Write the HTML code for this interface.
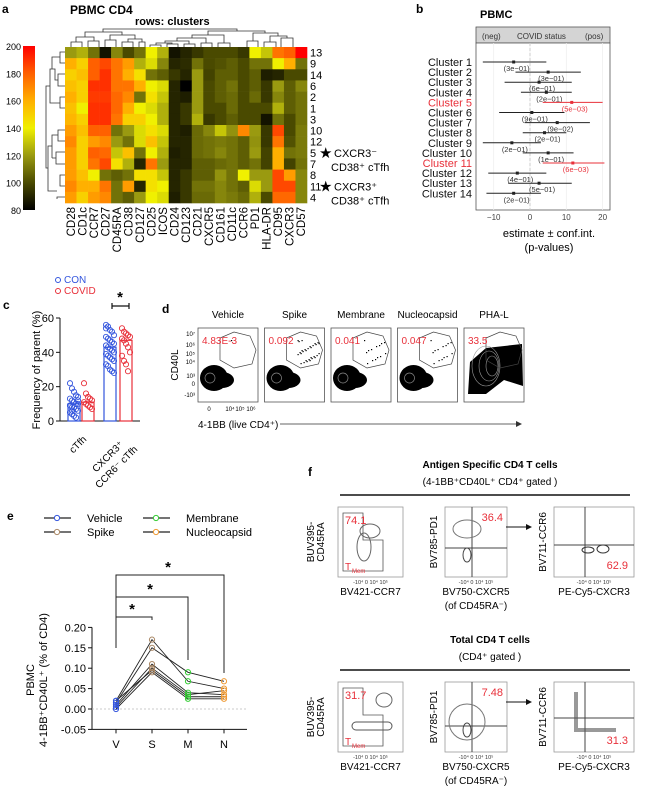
<!DOCTYPE html>
<html><head><meta charset="utf-8">
<style>
html,body{margin:0;padding:0;background:#fff;}
svg{display:block;font-family:"Liberation Sans",Arial,sans-serif;}
</style></head>
<body>
<svg id="fig" width="656" height="794" viewBox="0 0 656 794" xmlns="http://www.w3.org/2000/svg">
<defs>
<linearGradient id="cbar" x1="0" y1="1" x2="0" y2="0">
<stop offset="0" stop-color="#000000"/><stop offset="0.1667" stop-color="#4a4a00"/>
<stop offset="0.3333" stop-color="#9a9a10"/><stop offset="0.5" stop-color="#f0f000"/>
<stop offset="0.6667" stop-color="#ffb000"/><stop offset="0.8333" stop-color="#ff6000"/>
<stop offset="1" stop-color="#ff0000"/></linearGradient>
</defs>
<g id="pa"></g>
<g id="pb"></g>
<g id="pc"></g>
<g id="pd"></g>
<g id="pe"></g>
<g id="pf"></g>
</svg>
<script>
// ---------- Panel a data ----------
const hmCols = ["CD28","CD1c","CCR7","CD27","CD45RA","CD38","CD127","CD25","ICOS","CD24","CD123","CD21","CXCR5","CD161","CD11c","CCR6","PD1","HLA-DR","CD95","CXCR3","CD57"];
const hmRows = ["13","9","14","6","2","1","3","10","12","5","7","8","11","4"];
const hmVals = [
[120,125,110,85,115,100,110,140,125,85,90,95,100,100,100,95,140,130,175,180,200],
[160,150,180,185,175,165,125,135,115,90,92,110,100,102,105,100,110,110,140,160,110],
[150,155,180,190,175,160,145,110,105,95,90,120,98,105,105,100,105,88,90,100,100],
[155,150,190,190,175,175,160,140,135,90,80,120,100,105,110,100,105,95,120,105,115],
[160,150,188,188,178,170,110,145,130,90,88,120,100,105,108,100,108,95,115,105,110],
[155,140,190,190,178,160,140,135,125,90,95,120,100,100,108,100,100,100,125,105,110],
[158,150,190,190,175,150,150,140,125,90,95,125,95,100,105,100,100,85,110,100,110],
[165,155,180,180,110,120,135,145,135,90,88,108,115,130,118,170,120,95,185,100,112],
[170,150,165,170,120,110,135,155,130,90,90,108,110,112,110,105,118,95,175,102,112],
[165,150,180,178,130,155,110,140,125,88,90,108,110,115,110,105,120,98,160,110,112],
[165,150,175,185,145,125,90,175,120,90,90,105,105,108,110,105,110,98,160,98,110],
[165,155,140,110,105,110,145,145,130,90,95,105,105,118,110,140,120,120,185,165,115],
[170,160,160,175,110,165,90,145,140,90,95,110,110,115,110,105,135,120,185,185,115],
[165,150,165,170,110,105,120,140,135,88,95,108,108,115,112,108,125,100,178,178,115]];
const cbTicks = [80,100,120,140,160,180,200];
// ---------- Panel b data ----------
const fpClusters = ["Cluster 1","Cluster 2","Cluster 3","Cluster 4","Cluster 5","Cluster 6","Cluster 7","Cluster 8","Cluster 9","Cluster 10","Cluster 11","Cluster 12","Cluster 13","Cluster 14"];
const fpEst = [-4.5,5,2.5,4.5,11.5,0.5,7.5,4,-5,5,11.8,-3.5,2.5,-4.5];
const fpLo = [-13,-4,-7,-2.5,3.5,-8.5,-1.5,-2,-13,-2,3.5,-11.5,-6,-12];
const fpHi = [4.5,14,11.5,11.5,20,9.5,16.5,10,3,12,20.5,4.5,11.5,3];
const fpP = ["(3e−01)","(3e−01)","(6e−01)","(2e−01)","(5e−03)","(9e−01)","(9e−02)","(2e−01)","(2e−01)","(1e−01)","(6e−03)","(4e−01)","(5e−01)","(2e−01)"];
const fpSig = [0,0,0,0,1,0,0,0,0,0,1,0,0,0];
const fpTicks = [-10,0,10,20];
// ---------- Panel c data ----------
const cGroups = ["cTfh","CXCR3+ CCR6- cTfh"];
const cConMean = [10,43];
const cCovMean = [11,47];
const cConPts = [[22,19,17,15,14,13,12,11,10,10,9,8,8,7,6,5,4,3,2,12,9,6],[56,55,53,52,50,49,48,47,46,45,44,43,42,41,40,39,38,37,36,35,33,32,30,29,28,54]];
const cCovPts = [[22,16,14,13,12,11,10,9,8,7],[54,52,51,50,49,48,47,45,43,40,38,35,33,29]];
const cTicks = [0,20,40,60];
// ---------- Panel d data ----------
const dConds = ["Vehicle","Spike","Membrane","Nucleocapsid","PHA-L"];
const dPct = ["4.83E-3","0.092","0.041","0.047","33.5"];
const dGateDots = [1,30,14,14,0];
// ---------- Panel e data ----------
const eCats = ["V","S","M","N"];
const eDonors = [
[0.02,0.17,0.068,0.05],
[0.015,0.15,0.09,0.068],
[0.01,0.11,0.04,0.035],
[0.005,0.10,0.035,0.045],
[0.02,0.095,0.03,0.03],
[0.0,0.09,0.025,0.025]];
const eTicks = [-0.05,0,0.05,0.10,0.15,0.20];
const eTickLbl = ["-0.05","0.00","0.05","0.10","0.15","0.20"];
const eColors = ["#3355dd","#aa8866","#33cc33","#ee9933"];
const eSeries = ["Vehicle","Spike","Membrane","Nucleocapsid"];
// ---------- Panel f data ----------
const fTop = ["74.1","36.4","62.9"];
const fBot = ["31.7","7.48","31.3"];

const NS="http://www.w3.org/2000/svg";
function mk(parent,tag,attrs,txt){const e=document.createElementNS(NS,tag);for(const k in attrs)e.setAttribute(k,attrs[k]);if(txt!==undefined)e.textContent=txt;parent.appendChild(e);return e;}
function lerp(a,b,t){return a+(b-a)*t;}
const stops=[[80,[0,0,0]],[100,[74,74,0]],[120,[154,154,16]],[140,[240,240,0]],[160,[255,176,0]],[180,[255,96,0]],[200,[255,0,0]]];
function heat(v){v=Math.max(80,Math.min(200,v));for(let i=0;i<stops.length-1;i++){if(v<=stops[i+1][0]){const t=(v-stops[i][0])/20;const a=stops[i][1],b=stops[i+1][1];return `rgb(${Math.round(lerp(a[0],b[0],t))},${Math.round(lerp(a[1],b[1],t))},${Math.round(lerp(a[2],b[2],t))})`;}}return "rgb(255,0,0)";}

// ===== Panel a =====
const pa=document.getElementById('pa');
let t=mk(pa,'text',{x:2,y:13,'font-size':12,'font-weight':'bold'},'a');

t=mk(pa,'text',{x:70,y:14,'font-size':12,'font-weight':'bold'},'PBMC CD4');

t=mk(pa,'text',{x:135,y:25,'font-size':11,'font-weight':'bold'},'rows: clusters');

const hx0=65,hy0=47,cw=242/hmCols.length,rh=156/hmRows.length;
const hx=i=>hx0+i*cw, hy=j=>hy0+j*rh;
hmVals.forEach((row,j)=>row.forEach((v,i)=>{
  const r=mk(pa,'rect',{x:hx(i),y:hy(j),width:cw+0.3,height:rh+0.3,fill:heat(v)});
  
  
}));
hmRows.forEach((lab,j)=>{const e=mk(pa,'text',{x:hx0+245,y:hy(j)+rh/2+4,'font-size':11},lab);
  
  });
hmCols.forEach((lab,i)=>{const x=hx(i)+cw/2+4,y=hy0+160;const e=mk(pa,'text',{x:x,y:y,'font-size':11.5,'text-anchor':'end',transform:`rotate(-90 ${x} ${y})`},lab);
  
  });
let cb=mk(pa,'rect',{x:23,y:46,width:12,height:164,fill:'url(#cbar)'});

cbTicks.forEach(v=>{const y=210-(v-80)/120*164;const e=mk(pa,'text',{x:21,y:y+4,'font-size':9,'text-anchor':'end'},v);
  
  });
const dg=mk(pa,'path',{d:"M71 47V42H82V47M88 47V41H99V47M76 42V37H94V41M105 47V40H116V47M122 47V42H133V47M139 47V42H145V47M142 42V39H128V42M110 40V35H135V39M85 37V32H122V35M150 47V45H161V47M167 47V44H178V47M156 45V43H172V44M184 47V44H195V47M189 44V41H165V43M201 47V43H212V47M206 43V38H177V41M218 47V43H230V47M224 43V35H192V38M247 47V41H258V47M264 47V42H276V47M281 47V38H293V47M270 42V36H287V38M253 41V33H278V36M208 35V31H265V33M103 32V29H237V31M65 52H60V63H65M65 74H58V86H65M65 97H60V108H65M65 130H58V141H65M65 152H56V164H65M65 175H60V186H65M65 197H57V199M60 57H52V69M58 80H55V69H52M55 69H50V103H60M58 135H52V158M56 158H52M52 146H48V191H57M50 86H46V168H48",fill:'none',stroke:'#333','stroke-width':0.8});

[[hy(9)+rh/2,"CXCR3","⁻"],[hy(12)+rh/2,"CXCR3","⁺"]].forEach((a,k)=>{
  const s=mk(pa,'text',{x:319,y:a[0]+5,'font-size':15},'★');
  
  const e=mk(pa,'text',{x:334,y:a[0]+4,'font-size':11},a[1]+a[2]);
  
  const e2=mk(pa,'text',{x:331,y:a[0]+18,'font-size':11},'CD38⁺ cTfh');
  
});

// ===== Panel b =====
const pb=document.getElementById('pb');
t=mk(pb,'text',{x:416,y:13,'font-size':12,'font-weight':'bold'},'b');

t=mk(pb,'text',{x:480,y:18,'font-size':11,'font-weight':'bold'},'PBMC');

const bx=v=>530+v*3.63, by=i=>62+i*10.1;
let r=mk(pb,'rect',{x:476,y:27,width:134,height:16,fill:'#d4d4d4',stroke:'#555','stroke-width':0.8});

[[482,'(neg)'],[517,'COVID status'],[585,'(pos)']].forEach(a=>{const e=mk(pb,'text',{x:a[0],y:39,'font-size':8,fill:'#333'},a[1]);
  });
r=mk(pb,'rect',{x:476,y:43,width:134,height:167,fill:'#fff',stroke:'#555','stroke-width':0.8});

fpTicks.forEach(v=>{mk(pb,'line',{x1:bx(v),x2:bx(v),y1:43,y2:210,stroke:'#eee','stroke-width':0.8});
  const e=mk(pb,'text',{x:bx(v),y:220,'font-size':8,'text-anchor':'middle',fill:'#444'},v===-10?'−10':v);
  });
mk(pb,'line',{x1:bx(0),x2:bx(0),y1:43,y2:210,stroke:'#ccc','stroke-dasharray':'3,2'});
fpClusters.forEach((c,i)=>{
  const col=fpSig[i]?'#e8303a':'#222';
  const e=mk(pb,'text',{x:472,y:by(i)+4,'font-size':11,'text-anchor':'end',fill:fpSig[i]?'#e8303a':'#111'},c);
  
  const l=mk(pb,'line',{x1:bx(fpLo[i]),x2:bx(fpHi[i]),y1:by(i),y2:by(i),stroke:col,'stroke-width':1});
  
  const d=mk(pb,'rect',{x:bx(fpEst[i])-1.5,y:by(i)-1.5,width:3,height:3,fill:col});
  
  const p=mk(pb,'text',{x:bx(fpEst[i])+3,y:by(i)+9,'font-size':7.5,'text-anchor':'middle',fill:fpSig[i]?'#e8303a':'#333'},fpP[i]);
  
});
t=mk(pb,'text',{x:549,y:237,'font-size':11,'text-anchor':'middle'},'estimate ± conf.int.');

t=mk(pb,'text',{x:549,y:251,'font-size':11,'text-anchor':'middle'},'(p-values)');


// ===== Panel c =====
const pc=document.getElementById('pc');
t=mk(pc,'text',{x:3,y:309,'font-size':12,'font-weight':'bold'},'c');

[['CON','#3355dd',283],['COVID','#e8303a',294]].forEach(a=>{
  const c=mk(pc,'circle',{cx:58,cy:a[2]-3,r:2.5,fill:'none',stroke:a[1],'stroke-width':1});
  
  const e=mk(pc,'text',{x:64,y:a[2],'font-size':10,fill:a[1]},a[0]);
  });
const cy=v=>421-v*(103/60);
mk(pc,'line',{x1:60,x2:60,y1:cy(60),y2:cy(0),stroke:'#111','stroke-width':1});
mk(pc,'line',{x1:60,x2:140,y1:cy(0),y2:cy(0),stroke:'#111','stroke-width':1});
cTicks.forEach(v=>{mk(pc,'line',{x1:56,x2:60,y1:cy(v),y2:cy(v),stroke:'#111'});
  const e=mk(pc,'text',{x:54,y:cy(v)+4,'font-size':11,'text-anchor':'end'},v);
  });
t=mk(pc,'text',{x:40,y:370,'font-size':11,'text-anchor':'middle',transform:'rotate(-90 40 370)'},'Frequency of parent (%)');

const cgx=[68,104];
cGroups.forEach((g,k)=>{
  [[cConMean,cConPts,'#3355dd',0],[cCovMean,cCovPts,'#e8303a',1]].forEach(s=>{
    const x=cgx[k]+s[3]*(k?16:14);
    const b=mk(pc,'rect',{x:x,y:cy(s[0][k]),width:12,height:cy(0)-cy(s[0][k]),fill:'none',stroke:s[2],'stroke-width':1.2});
    
    s[1][k].forEach((v,m)=>{const c=mk(pc,'circle',{cx:x+2+(m%5)*2,cy:cy(v),r:2.6,fill:'none',stroke:s[2],'stroke-width':0.9});
      });
  });
});
t=mk(pc,'text',{x:87,y:440,'font-size':10,'text-anchor':'end',transform:'rotate(-45 87 440)'},'cTfh');

t=mk(pc,'text',{x:124,y:445,'font-size':10,'text-anchor':'end',transform:'rotate(-45 124 445)'},'CXCR3⁺');

t=mk(pc,'text',{x:138,y:450,'font-size':10,'text-anchor':'end',transform:'rotate(-45 138 450)'},'CCR6⁻ cTfh');

mk(pc,'path',{d:'M112 303V309M112 306H129M129 303V309',stroke:'#111','stroke-width':1.2,fill:'none'});
t=mk(pc,'text',{x:120,y:302,'font-size':15,'text-anchor':'middle','font-weight':'bold'},'*');


// ===== Panel d =====
const pd=document.getElementById('pd');
t=mk(pd,'text',{x:162,y:313,'font-size':12,'font-weight':'bold'},'d');

dConds.forEach((c,k)=>{
  const x0=198+k*66.5,y0=328;
  const g=mk(pd,'g',{});
  
  const e=mk(g,'text',{x:x0+30,y:318,'font-size':10,'text-anchor':'middle'},c);
  
  mk(g,'rect',{x:x0,y:y0,width:60,height:74,fill:'#fff',stroke:'#555','stroke-width':0.8});
  if(k<4){
    mk(g,'ellipse',{cx:x0+16,cy:y0+50,rx:14,ry:13,fill:'#000'});
    mk(g,'ellipse',{cx:x0+24,cy:y0+52,rx:12,ry:8,fill:'#000'});
    mk(g,'ellipse',{cx:x0+12,cy:y0+50,rx:5,ry:5,fill:'none',stroke:'#888','stroke-width':0.7});
  } else {
    mk(g,'path',{d:`M${x0+4} ${y0+66}L${x0+6} ${y0+34}L${x0+22} ${y0+20}L${x0+58} ${y0+16}L${x0+59} ${y0+58}L${x0+40} ${y0+52}L${x0+22} ${y0+66}Z`,fill:'#000'});
    [0,1,2].forEach(q=>mk(g,'ellipse',{cx:x0+22+q*3,cy:y0+38,rx:14-q*4,ry:20-q*5,fill:'none',stroke:'#999','stroke-width':0.6}));
  }
  for(let q=0;q<dGateDots[k];q++){mk(g,'rect',{x:x0+33+((q*13)%22),y:y0+12+((q*17)%24),width:1.2,height:1.2,fill:'#000'});}
  mk(g,'path',{d:`M${x0+22} ${y0+32}L${x0+22} ${y0+10}L${x0+36} ${y0+4}L${x0+52} ${y0+8}L${x0+58} ${y0+22}L${x0+54} ${y0+36}L${x0+36} ${y0+40}Z`,fill:'none',stroke:'#444','stroke-width':0.7});
  const p=mk(g,'text',{x:x0+4,y:y0+16,'font-size':10,fill:'#e8303a'},dPct[k]);
  
});
[['10⁷',336],['10⁶',347],['10⁵',356],['10⁴',364],['10³',378],['0',386],['-10³',397]].forEach(a=>{mk(pd,'text',{x:195,y:a[1],'font-size':6,'text-anchor':'end'},a[0]);});
[['0',209],['10⁴',230],['10⁵',240],['10⁶',251]].forEach(a=>mk(pd,'text',{x:a[1],y:411,'font-size':6,'text-anchor':'middle'},a[0]));
t=mk(pd,'text',{x:178,y:365,'font-size':10,'text-anchor':'middle',transform:'rotate(-90 178 365)'},'CD40L');

t=mk(pd,'text',{x:198,y:428,'font-size':10},'4-1BB (live CD4⁺)');

mk(pd,'line',{x1:280,x2:516,y1:424,y2:424,stroke:'#333','stroke-width':0.8});
mk(pd,'path',{d:'M516 421L522 424L516 427Z',fill:'#333'});

// ===== Panel e =====
const pe=document.getElementById('pe');
t=mk(pe,'text',{x:7,y:520,'font-size':12,'font-weight':'bold'},'e');

eSeries.forEach((s,k)=>{
  const lxx=k<2?44:143;
  const yy=(k===0||k===2)?518:532;
  mk(pe,'line',{x1:lxx,x2:lxx+27,y1:yy,y2:yy,stroke:'#222','stroke-width':1.2});
  const c=mk(pe,'circle',{cx:lxx+13,cy:yy,r:2.6,fill:'#fff',stroke:eColors[k],'stroke-width':1});
  
  const e=mk(pe,'text',{x:lxx+43,y:yy+4,'font-size':11},s);
  
});
const ex=i=>116+i*36, ey=v=>709-v*(20.4/0.05);
mk(pe,'line',{x1:92,x2:92,y1:ey(0.2),y2:ey(-0.05),stroke:'#111'});
mk(pe,'line',{x1:92,x2:247,y1:ey(-0.05),y2:ey(-0.05),stroke:'#111'});
mk(pe,'line',{x1:92,x2:247,y1:ey(0),y2:ey(0),stroke:'#bbb','stroke-dasharray':'2,2','stroke-width':0.7});
eTicks.forEach((v,i)=>{mk(pe,'line',{x1:88,x2:92,y1:ey(v),y2:ey(v),stroke:'#111'});
  const e=mk(pe,'text',{x:86,y:ey(v)+4,'font-size':11,'text-anchor':'end'},eTickLbl[i]);
  });
eCats.forEach((c,i)=>{mk(pe,'line',{x1:ex(i),x2:ex(i),y1:ey(-0.05),y2:ey(-0.05)+4,stroke:'#111'});
  const e=mk(pe,'text',{x:ex(i),y:748,'font-size':11,'text-anchor':'middle'},c);
  });
eDonors.forEach(d=>{
  const l=mk(pe,'polyline',{points:d.map((v,i)=>ex(i)+','+ey(v)).join(' '),fill:'none',stroke:'#222','stroke-width':0.9});
  
});
eDonors.forEach(d=>d.forEach((v,i)=>{const c=mk(pe,'circle',{cx:ex(i),cy:ey(v),r:2.6,fill:'none',stroke:eColors[i],'stroke-width':1});
  }));
[[1,617,620,604],[2,597,660,584],[3,575,673,562]].forEach(b=>{
  const p=mk(pe,'path',{d:`M${ex(0)} 648V${b[1]}H${ex(b[0])}V${b[2]}`,fill:'none',stroke:'#222','stroke-width':1});
  
  const s=mk(pe,'text',{x:(ex(0)+ex(b[0]))/2-2,y:b[3]+10,'font-size':15,'font-weight':'bold','text-anchor':'middle'},'*');
  
});
t=mk(pe,'text',{x:34,y:680,'font-size':11,'text-anchor':'middle',transform:'rotate(-90 34 680)'},'PBMC');

t=mk(pe,'text',{x:47,y:680,'font-size':11,'text-anchor':'middle',transform:'rotate(-90 47 680)'},'4-1BB⁺CD40L⁺ (% of CD4)');


// ===== Panel f =====
const pf=document.getElementById('pf');
t=mk(pf,'text',{x:308,y:476,'font-size':12,'font-weight':'bold'},'f');

function fBlock(y0,title,sub,vals,total){
  let e=mk(pf,'text',{x:490,y:y0,'font-size':10,'font-weight':'bold','text-anchor':'middle'},title);
  
  e=mk(pf,'text',{x:490,y:y0+17,'font-size':10,'text-anchor':'middle'},sub);
  
  mk(pf,'line',{x1:340,x2:630,y1:y0+27,y2:y0+27,stroke:'#111','stroke-width':1.6});
  const py=y0+39, ph=70;
  const boxes=[[338,65],[445,62],[554,80]];
  const xl=[["BV421-CCR7"],["BV750-CXCR5","(of CD45RA⁻)"],["PE-Cy5-CXCR3"]];
  const yl=[["BUV395-","CD45RA"],["BV785-PD1"],["BV711-CCR6"]];
  boxes.forEach((b,k)=>{
    const g=mk(pf,'g',{});
    
    mk(g,'rect',{x:b[0],y:py,width:b[1],height:ph,fill:'#fff',stroke:'#999','stroke-width':0.8});
    if(k===0){
      mk(g,'path',{d:`M${b[0]+5} ${py+6}H${b[0]+25}V${py+33}H${b[0]+45}V${py+64}H${b[0]+5}Z`,fill:'none',stroke:'#555','stroke-width':0.8});
      if(total){mk(g,'ellipse',{cx:b[0]+46,cy:py+18,rx:8,ry:7,fill:'none',stroke:'#666'});mk(g,'rect',{x:b[0]+14,y:py+40,width:40,height:8,rx:4,fill:'none',stroke:'#555'});}
      else{mk(g,'ellipse',{cx:b[0]+32,cy:py+24,rx:10,ry:7,fill:'none',stroke:'#666'});mk(g,'ellipse',{cx:b[0]+26,cy:py+40,rx:7,ry:14,fill:'none',stroke:'#666'});}
      mk(g,'text',{x:b[0]+7,y:py+63,'font-size':10,fill:'#e8303a'},'T');
      mk(g,'text',{x:b[0]+14,y:py+66,'font-size':6,fill:'#e8303a'},'Mem');
      mk(g,'text',{x:b[0]+7,y:py+17,'font-size':11,fill:'#e8303a'},vals[0]);
    } else if(k===1){
      mk(g,'line',{x1:b[0]+27,x2:b[0]+27,y1:py,y2:py+ph,stroke:'#444'});
      mk(g,'line',{x1:b[0],x2:b[0]+b[1],y1:py+(total?44:41),y2:py+(total?44:41),stroke:'#444'});
      mk(g,'ellipse',{cx:b[0]+22,cy:py+(total?40:22),rx:(total?18:14),ry:(total?18:9),fill:'none',stroke:'#777'});
      mk(g,'ellipse',{cx:b[0]+22,cy:py+48,rx:4,ry:7,fill:'none',stroke:'#444'});
      mk(g,'text',{x:b[0]+b[1]-4,y:py+14,'font-size':11,fill:'#e8303a','text-anchor':'end'},vals[1]);
    } else {
      mk(g,'line',{x1:b[0]+31,x2:b[0]+31,y1:py,y2:py+ph,stroke:'#444'});
      mk(g,'line',{x1:b[0],x2:b[0]+b[1],y1:py+(total?36:38),y2:py+(total?36:38),stroke:'#444'});
      if(total){mk(g,'path',{d:`M${b[0]+22} ${py+10}V${py+48}H${b[0]+62}`,fill:'none',stroke:'#555','stroke-width':4,opacity:0.6});}
      else{mk(g,'ellipse',{cx:b[0]+34,cy:py+43,rx:6,ry:3,fill:'none',stroke:'#333'});mk(g,'ellipse',{cx:b[0]+49,cy:py+42,rx:6,ry:4,fill:'none',stroke:'#333'});}
      mk(g,'text',{x:b[0]+b[1]-6,y:py+62,'font-size':11,fill:'#e8303a','text-anchor':'end'},vals[2]);
    }
    xl[k].forEach((s,q)=>{const e=mk(pf,'text',{x:b[0]+b[1]/2,y:py+ph+18+q*14,'font-size':10,'text-anchor':'middle'},s);
      });
    yl[k].forEach((s,q)=>{const xx=b[0]-(yl[k].length===2?20-q*10:8)-(k===0?4:0);const yy=py+ph/2;
      const e=mk(pf,'text',{x:xx,y:yy,'font-size':10,'text-anchor':'middle',transform:`rotate(-90 ${xx} ${yy})`},s);
      });
    mk(pf,'text',{x:b[0]+b[1]/2,y:py+ph+7,'font-size':5.5,'text-anchor':'middle',fill:'#333'},'-10⁴   0   10⁴   10⁵');
  });
  mk(pf,'line',{x1:506,x2:526,y1:py+20,y2:py+20,stroke:'#111'});
  mk(pf,'path',{d:`M526 ${py+17}L532 ${py+20}L526 ${py+23}Z`,fill:'#111'});
}
fBlock(468,'Antigen Specific CD4 T cells','(4-1BB⁺CD40L⁺ CD4⁺ gated )',fTop,false);
fBlock(643,'Total CD4 T cells','(CD4⁺ gated )',fBot,true);
</script>
</body></html>
